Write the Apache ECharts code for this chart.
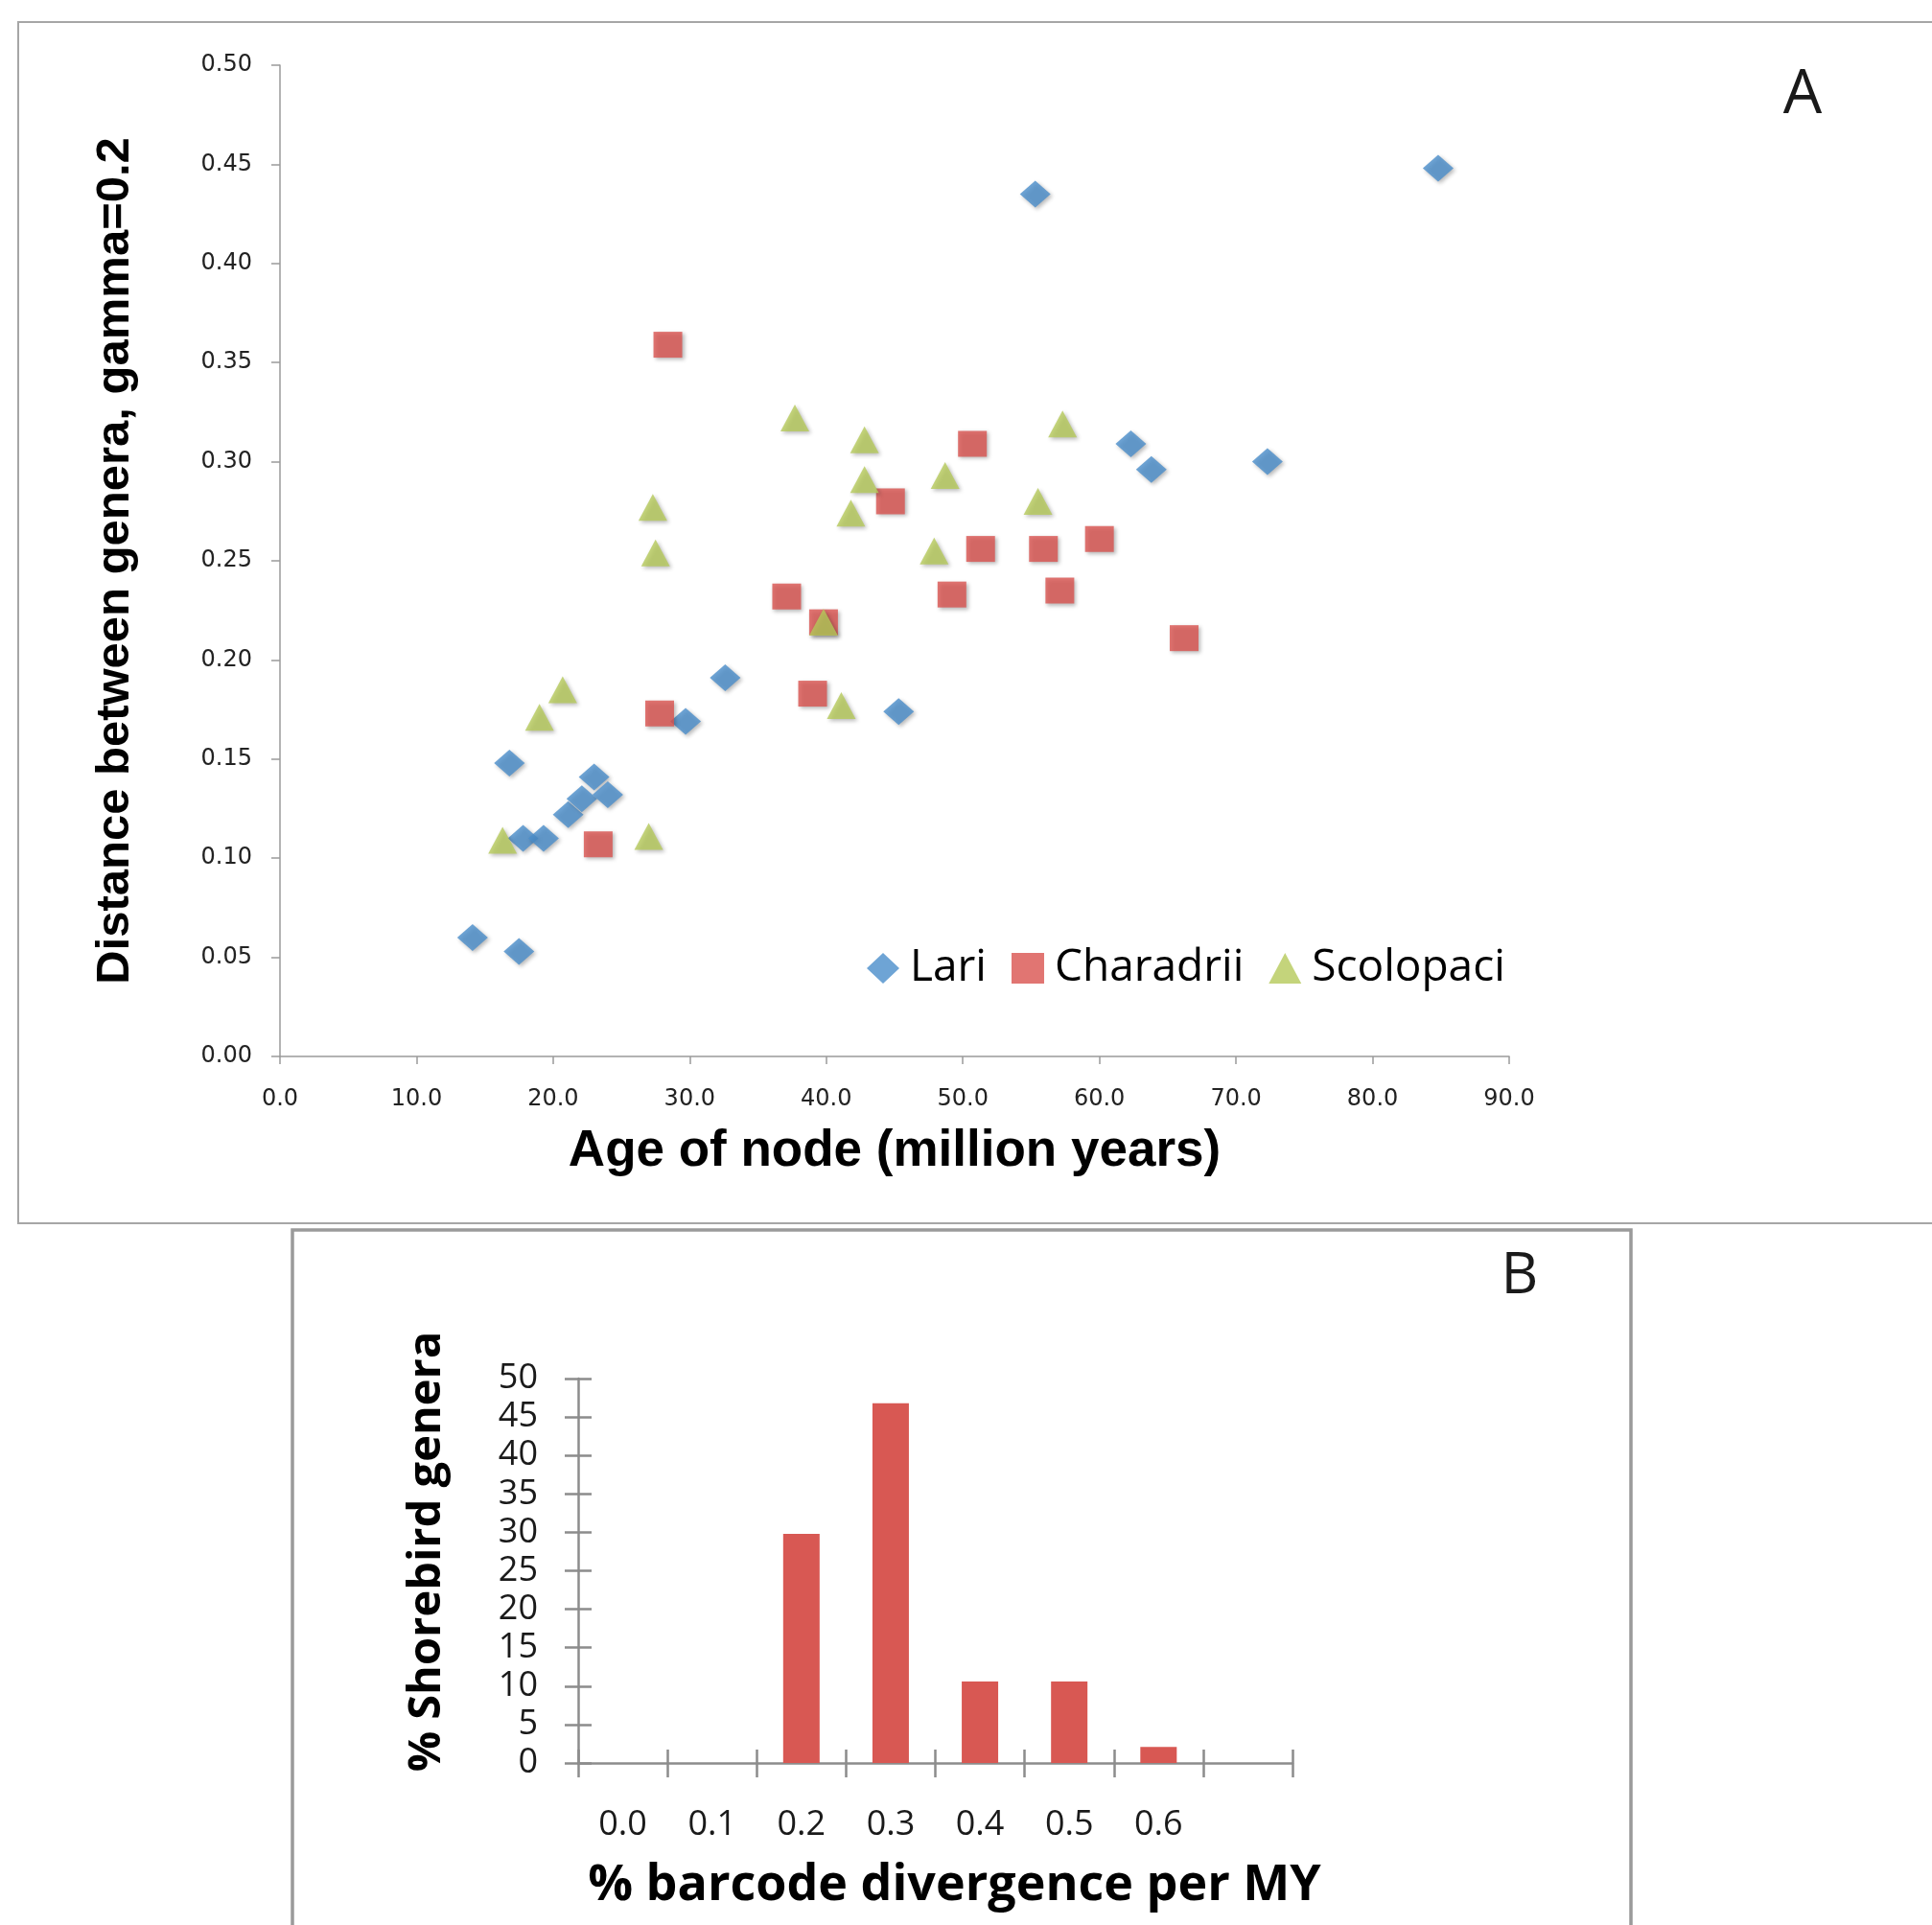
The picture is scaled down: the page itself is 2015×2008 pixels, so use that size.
<!DOCTYPE html>
<html><head><meta charset="utf-8">
<script src="https://cdn.jsdelivr.net/npm/echarts@6/dist/echarts.min.js"></script>
<style>html,body{margin:0;padding:0;background:#fff}#c{width:2015px;height:2008px}</style>
</head><body><div id="c"></div>
<script>
// Panel A data: age of node (million years) vs distance between genera
const lariX = [14.1, 17.5, 16.8, 17.8, 19.3, 21.1, 22.1, 23.0, 24.0, 29.7, 32.6, 45.3, 55.3, 62.3, 63.8, 72.3, 84.8];
const lariY = [0.060, 0.053, 0.148, 0.110, 0.110, 0.122, 0.130, 0.141, 0.132, 0.169, 0.191, 0.174, 0.435, 0.309, 0.296, 0.300, 0.448];
const charX = [28.4, 50.7, 44.7, 51.3, 55.9, 60.0, 57.1, 49.2, 37.1, 39.8, 66.2, 39.0, 27.8, 23.3];
const charY = [0.359, 0.309, 0.280, 0.256, 0.256, 0.261, 0.235, 0.233, 0.232, 0.219, 0.211, 0.183, 0.173, 0.107];
const scoloX = [37.7, 42.8, 57.3, 27.3, 42.8, 48.7, 41.8, 55.5, 27.5, 47.9, 39.8, 41.1, 20.7, 19.0, 16.3, 27.0];
const scoloY = [0.322, 0.311, 0.319, 0.277, 0.291, 0.293, 0.274, 0.280, 0.254, 0.255, 0.219, 0.177, 0.185, 0.171, 0.109, 0.111];
const seriesNames = ['Lari', 'Charadrii', 'Scolopaci'];

// Panel B data: % shorebird genera per barcode divergence class
const divCategories = ['0.0', '0.1', '0.2', '0.3', '0.4', '0.5', '0.6', ''];
const pctGenera = [0, 0, 29.8, 46.8, 10.6, 10.6, 2.1, 0];

const zip = (xs, ys) => xs.map((x, i) => [x, ys[i]]);
const BLUE = '#4a8dca', RED = '#d9534f', GREEN = '#b5c95a', BAR = '#d85853';
const AX = '#9a9a9a', AXB = '#8c8c8c';
const shadow = { shadowBlur: 4, shadowColor: 'rgba(0,0,0,0.35)', shadowOffsetX: 2, shadowOffsetY: 2 };

const chart = echarts.init(document.getElementById('c'), null, { renderer: 'canvas' });
chart.setOption({
  animation: false,
  backgroundColor: '#ffffff',
  grid: [
    { left: 292, top: 68, width: 1282, height: 1034 },
    { left: 603, top: 1438, width: 745, height: 401 }
  ],
  xAxis: [
    {
      gridIndex: 0, type: 'value', min: 0, max: 90, interval: 10, position: 'bottom',
      name: 'Age of node (million years)', nameLocation: 'middle', nameGap: 73,
      nameTextStyle: { fontFamily: 'Liberation Sans', fontWeight: 'bold', fontSize: 53, color: '#000' },
      axisLine: { lineStyle: { color: AX, width: 1.5 } },
      axisTick: { show: true, length: 8, lineStyle: { color: AX, width: 1.5 } },
      axisLabel: { formatter: v => v.toFixed(1), fontFamily: 'DejaVu Sans', fontSize: 24, color: '#222', margin: 33 },
      splitLine: { show: false }
    },
    {
      gridIndex: 1, type: 'category', data: divCategories, boundaryGap: true, position: 'bottom',
      name: '% barcode divergence per MY', nameLocation: 'middle', nameGap: 102,
      nameTextStyle: { fontFamily: 'Open Sans', fontWeight: 'bold', fontSize: 52, color: '#000', padding: [0, 0, 0, 40] },
      axisLine: { lineStyle: { color: AXB, width: 2.5 } },
      axisTick: { show: true, length: 15, alignWithLabel: false, lineStyle: { color: AXB, width: 2.5 } },
      axisLabel: { fontFamily: 'Open Sans', fontSize: 36, color: '#1a1a1a', margin: 47, interval: 0 },
      splitLine: { show: false }
    },
    {
      gridIndex: 1, type: 'category', data: divCategories, boundaryGap: true, position: 'bottom',
      axisLine: { show: false },
      axisTick: { show: true, inside: true, length: 14, alignWithLabel: false, lineStyle: { color: AXB, width: 2.5 } },
      axisLabel: { show: false }, splitLine: { show: false }
    }
  ],
  yAxis: [
    {
      gridIndex: 0, type: 'value', min: 0, max: 0.5, interval: 0.05, position: 'left',
      name: 'Distance between genera, gamma=0.2', nameLocation: 'middle', nameGap: 147, nameRotate: 90,
      nameTextStyle: { fontFamily: 'Liberation Sans', fontWeight: 'bold', fontSize: 49, color: '#000' },
      axisLine: { show: true, lineStyle: { color: AX, width: 1.5 } },
      axisTick: { show: true, length: 9, lineStyle: { color: AX, width: 1.5 } },
      axisLabel: { formatter: v => v.toFixed(2), fontFamily: 'DejaVu Sans', fontSize: 24, color: '#222', margin: 29 },
      splitLine: { show: false }
    },
    {
      gridIndex: 1, type: 'value', min: 0, max: 50, interval: 5, position: 'left',
      name: '% Shorebird genera', nameLocation: 'middle', nameGap: 134, nameRotate: 90,
      nameTextStyle: { fontFamily: 'Open Sans', fontWeight: 'bold', fontSize: 47, color: '#000', padding: [0, 0, 0, 40] },
      axisLine: { show: true, lineStyle: { color: AXB, width: 2.5 } },
      axisTick: { show: true, length: 14, lineStyle: { color: AXB, width: 2.5 } },
      axisLabel: { fontFamily: 'Open Sans', fontSize: 36, color: '#1a1a1a', margin: 42 },
      splitLine: { show: false }
    },
    {
      gridIndex: 1, type: 'value', min: 0, max: 50, interval: 5, position: 'left',
      axisLine: { show: false },
      axisTick: { show: true, inside: true, length: 14, lineStyle: { color: AXB, width: 2.5 } },
      axisLabel: { show: false }, splitLine: { show: false }
    }
  ],
  legend: {
    left: 899, top: 982, orient: 'horizontal', itemGap: 26,
    itemWidth: 34, itemHeight: 32,
    textStyle: { fontFamily: 'Open Sans', fontSize: 46, color: '#000', padding: [0, 0, 0, 6] },
    data: [
      { name: seriesNames[0], icon: 'diamond' },
      { name: seriesNames[1], icon: 'rect' },
      { name: seriesNames[2], icon: 'triangle' }
    ]
  },
  series: [
    { name: seriesNames[0], type: 'scatter', xAxisIndex: 0, yAxisIndex: 0, symbol: 'diamond', symbolSize: [32, 28],
      itemStyle: Object.assign({ color: BLUE }, shadow), data: zip(lariX, lariY) },
    { name: seriesNames[1], type: 'scatter', xAxisIndex: 0, yAxisIndex: 0, symbol: 'rect', symbolSize: [30, 27],
      itemStyle: Object.assign({ color: RED }, shadow), data: zip(charX, charY) },
    { name: seriesNames[2], type: 'scatter', xAxisIndex: 0, yAxisIndex: 0, symbol: 'triangle', symbolSize: [30, 28],
      itemStyle: Object.assign({ color: GREEN }, shadow), data: zip(scoloX, scoloY) },
    { name: 'pct', type: 'bar', xAxisIndex: 1, yAxisIndex: 1, barWidth: 38,
      itemStyle: { color: BAR }, data: pctGenera }
  ],
  graphic: [
    { type: 'rect', shape: { x: 19, y: 23, width: 2100, height: 1253 }, style: { fill: 'none', stroke: '#a6a6a6', lineWidth: 2 }, silent: true },
    { type: 'rect', shape: { x: 305, y: 1283, width: 1396, height: 800 }, style: { fill: 'none', stroke: '#9a9a9a', lineWidth: 3.5 }, silent: true },
    { type: 'text', x: 1880, y: 100, style: { text: 'A', font: '64px "Open Sans"', fill: '#1a1a1a', align: 'center', verticalAlign: 'middle', textAlign: 'center', textVerticalAlign: 'middle' }, silent: true },
    { type: 'text', x: 1585, y: 1332, style: { text: 'B', font: '60px "Open Sans"', fill: '#1a1a1a', align: 'center', verticalAlign: 'middle', textAlign: 'center', textVerticalAlign: 'middle' }, silent: true }
  ]
});
</script></body></html>
